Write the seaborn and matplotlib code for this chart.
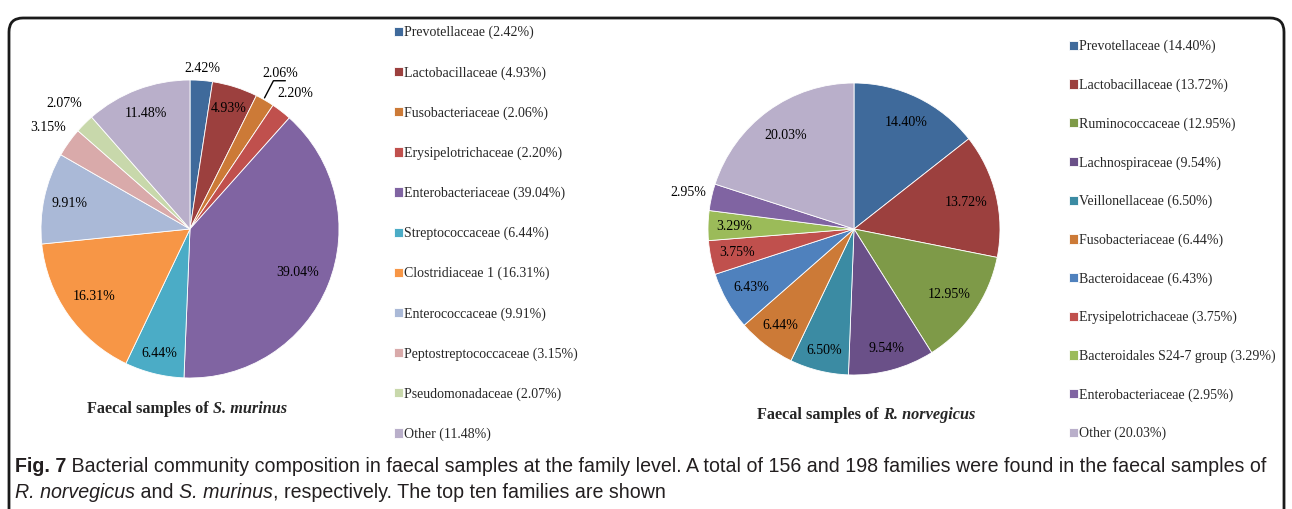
import matplotlib
matplotlib.use("Agg")
import matplotlib.pyplot as plt
import numpy as np
import seaborn as sns
from matplotlib.patches import FancyBboxPatch
from matplotlib.transforms import IdentityTransform

# S. murinus
mur_names = ["Prevotellaceae", "Lactobacillaceae", "Fusobacteriaceae", "Erysipelotrichaceae",
             "Enterobacteriaceae", "Streptococcaceae", "Clostridiaceae 1", "Enterococcaceae",
             "Peptostreptococcaceae", "Pseudomonadaceae", "Other"]
mur_vals = [2.42, 4.93, 2.06, 2.20, 39.04, 6.44, 16.31, 9.91, 3.15, 2.07, 11.48]
mur_colors = ["#3F6A9B", "#9C403E", "#CC7A37", "#C0504D", "#8064A2", "#4BACC6",
              "#F79646", "#AAB9D7", "#D9AAAA", "#C8D8AB", "#B9AFCA"]
mur_lab_r = [1.08, 0.85, 1.21, 1.15, 0.78, 0.86, 0.79, 0.83, 1.17, 1.19, 0.83]

# R. norvegicus
nor_names = ["Prevotellaceae", "Lactobacillaceae", "Ruminococcaceae", "Lachnospiraceae",
             "Veillonellaceae", "Fusobacteriaceae", "Bacteroidaceae", "Erysipelotrichaceae",
             "Bacteroidales S24-7 group", "Enterobacteriaceae", "Other"]
nor_vals = [14.40, 13.72, 12.95, 9.54, 6.50, 6.44, 6.43, 3.75, 3.29, 2.95, 20.03]
nor_colors = ["#3F6A9B", "#9C403E", "#7E9A48", "#6A5088", "#3B8BA3", "#CC7A37",
              "#4F81BD", "#C0504D", "#9BBB59", "#8064A2", "#B9AFCA"]
nor_lab_r = [0.81, 0.79, 0.79, 0.85, 0.86, 0.83, 0.81, 0.82, 0.82, 1.16, 0.79]

sns.set_theme(style="white")
plt.rcParams['font.family'] = ['Liberation Serif', 'DejaVu Serif']

W, H = 1292, 509
fig = plt.figure(figsize=(W / 100, H / 100), dpi=100)


def px_axes(cx, cy, r):
    side = 2.5 * r
    return fig.add_axes([(cx - side / 2) / W, (H - cy - side / 2) / H, side / W, side / H])


def draw_pie(ax, vals, colors, lab_r):
    wedges, _ = ax.pie(vals, colors=colors, startangle=90, counterclock=False,
                       wedgeprops=dict(edgecolor="white", linewidth=0.6))
    ax.set_xlim(-1.25, 1.25)
    ax.set_ylim(-1.25, 1.25)
    ax.set_aspect("equal")
    for w, v, r in zip(wedges, vals, lab_r):
        th = np.deg2rad((w.theta1 + w.theta2) / 2)
        ax.text(r * np.cos(th), r * np.sin(th), f"{v:.2f}%", ha="center", va="center",
                fontsize=10, color="black")
    return wedges


ax1 = px_axes(190, 229, 149)
w1 = draw_pie(ax1, mur_vals, mur_colors, mur_lab_r)
ax2 = px_axes(854, 229, 146)
w2 = draw_pie(ax2, nor_vals, nor_colors, nor_lab_r)

# leader line for the 2.06% slice
ax1.plot([0.50, 0.56, 0.64], [0.88, 0.995, 0.995], color="black", lw=1)

legend_kw = dict(loc="upper left", bbox_transform=fig.transFigure, frameon=False,
                 handlelength=0.65, handleheight=0.65, handletextpad=0.1,
                 borderaxespad=0, borderpad=0, prop={"size": 10})
ax1.legend(w1, [f"{n} ({v:.2f}%)" for n, v in zip(mur_names, mur_vals)],
           bbox_to_anchor=(394 / W, 1 - 26 / H), labelspacing=1.92, **legend_kw)
ax2.legend(w2, [f"{n} ({v:.2f}%)" for n, v in zip(nor_names, nor_vals)],
           bbox_to_anchor=(1069 / W, 1 - 40 / H), labelspacing=1.815, **legend_kw)

# subplot titles (bold, species in bold italic)
tfs = 11.7
t = fig.text(87 / W, 1 - 409 / H, "Faecal samples of ", fontsize=tfs, fontweight="bold", va="center")
ax1.annotate("S. murinus", xy=(1, 0.5), xycoords=t, va="center", ha="left",
             fontsize=tfs, fontweight="bold", fontstyle="italic")
t = fig.text(757 / W, 1 - 415 / H, "Faecal samples of ", fontsize=tfs, fontweight="bold", va="center")
ax2.annotate("R. norvegicus", xy=(1, 0.5), xycoords=t, va="center", ha="left",
             fontsize=tfs, fontweight="bold", fontstyle="italic")

# caption
cap = ['Liberation Sans', 'DejaVu Sans']
cfs = 14.15
ccol = "#231F20"
c1 = fig.text(15 / W, 1 - 467 / H, "Fig. 7", fontsize=cfs, fontweight="bold", family=cap,
              va="center", color=ccol)
ax1.annotate(" Bacterial community composition in faecal samples at the family level. A total of 156 and "
             "198 families were found in the faecal samples of",
             xy=(1, 0.5), xycoords=c1, va="center", ha="left", fontsize=cfs, family=cap, color=ccol)
c2 = fig.text(15 / W, 1 - 492 / H, "R. norvegicus", fontsize=cfs, fontstyle="italic", family=cap,
              va="center", color=ccol)
c3 = ax1.annotate(" and ", xy=(1, 0.5), xycoords=c2, va="center", ha="left", fontsize=cfs,
                  family=cap, color=ccol)
c4 = ax1.annotate("S. murinus", xy=(1, 0.5), xycoords=c3, va="center", ha="left", fontsize=cfs,
                  fontstyle="italic", family=cap, color=ccol)
ax1.annotate(", respectively. The top ten families are shown", xy=(1, 0.5), xycoords=c4,
             va="center", ha="left", fontsize=cfs, family=cap, color=ccol)

box = FancyBboxPatch((9, -40), 1275, 531, boxstyle="round,pad=0,rounding_size=14",
                     transform=IdentityTransform(), fill=False, edgecolor="#1a1a1a", lw=2)
fig.patches.append(box)

fig.savefig("out.png", dpi=100)
